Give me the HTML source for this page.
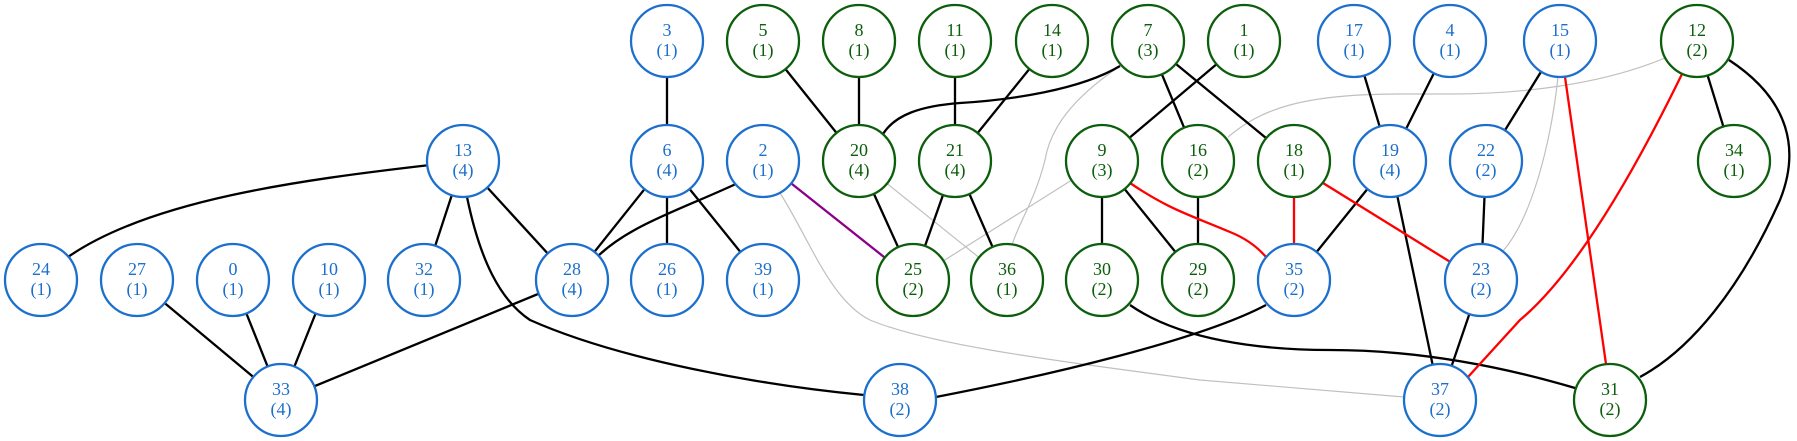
<!DOCTYPE html>
<html><head><meta charset="utf-8"><style>
html,body{margin:0;padding:0;background:#fff;}
svg{display:block;}
text{font-family:"Liberation Serif",serif;font-size:18px;text-anchor:middle;}
.b circle{stroke:#1c6fcd;}
.b text{fill:#1c6fcd;}
.g circle{stroke:#0b5e0b;}
.g text{fill:#0b5e0b;}
circle{fill:#fff;stroke-width:2.3;}
.e{fill:none;stroke:#000;stroke-width:2.3;}
.r{fill:none;stroke:#f00;stroke-width:2.3;}
.y{fill:none;stroke:#c0c0c0;stroke-width:1.2;}
.p{fill:none;stroke:#8b008b;stroke-width:2.3;}
</style></head><body>
<svg width="1797" height="441" viewBox="0 0 1797 441" xmlns="http://www.w3.org/2000/svg">
<!-- gray edges -->
<path class="y" d="M1665,58 C1600,85 1520,94 1450,94 L1400,94 C1300,94 1260,110 1228,137"/>
<path class="y" d="M1120,66 C1070,100 1050,130 1045,160 C1035,200 1020,220 1012,245"/>
<path class="y" d="M1558,77 C1550,150 1530,220 1503,251"/>
<path class="y" d="M780,193 C810,240 830,300 870,320 C930,345 1050,360 1200,380 L1404,397"/>
<line class="y" x1="859" y1="161" x2="1007" y2="280"/>
<line class="y" x1="1102" y1="161" x2="913" y2="280"/>
<!-- black edges -->
<line class="e" x1="667" y1="41" x2="667" y2="161"/>
<line class="e" x1="763" y1="41" x2="859" y2="161"/>
<line class="e" x1="859" y1="41" x2="859" y2="161"/>
<line class="e" x1="955" y1="41" x2="955" y2="161"/>
<line class="e" x1="1052" y1="41" x2="955" y2="161"/>
<path class="e" d="M1120,66 C1080,90 1010,100 960,103 C920,106 895,115 883,134"/>
<line class="e" x1="1148" y1="41" x2="1198" y2="161"/>
<line class="e" x1="1148" y1="41" x2="1294" y2="161"/>
<line class="e" x1="1244" y1="41" x2="1102" y2="161"/>
<line class="e" x1="1354" y1="41" x2="1390" y2="161"/>
<line class="e" x1="1450" y1="41" x2="1390" y2="161"/>
<line class="e" x1="1560" y1="41" x2="1486" y2="161"/>
<line class="e" x1="1697" y1="41" x2="1734" y2="161"/>
<path class="e" d="M1729,60 C1790,100 1800,150 1780,200 C1740,290 1690,350 1640,377"/>
<path class="e" d="M430,165 C300,180 150,200 68,257"/>
<line class="e" x1="463" y1="161" x2="424" y2="280"/>
<line class="e" x1="463" y1="161" x2="572" y2="280"/>
<path class="e" d="M467,197 C480,260 500,300 530,320 C620,360 760,385 864,395"/>
<line class="e" x1="667" y1="161" x2="572" y2="280"/>
<line class="e" x1="667" y1="161" x2="667" y2="280"/>
<line class="e" x1="667" y1="161" x2="763" y2="280"/>
<path class="e" d="M738,183 C680,210 630,225 597,257"/>
<line class="e" x1="859" y1="161" x2="913" y2="280"/>
<line class="e" x1="955" y1="161" x2="913" y2="280"/>
<line class="e" x1="955" y1="161" x2="1007" y2="280"/>
<line class="e" x1="1102" y1="161" x2="1102" y2="280"/>
<line class="e" x1="1102" y1="161" x2="1198" y2="280"/>
<line class="e" x1="1198" y1="161" x2="1198" y2="280"/>
<line class="e" x1="1390" y1="161" x2="1294" y2="280"/>
<line class="e" x1="1390" y1="161" x2="1440" y2="400"/>
<line class="e" x1="1486" y1="161" x2="1481" y2="280"/>
<line class="e" x1="1481" y1="280" x2="1440" y2="400"/>
<line class="e" x1="137" y1="280" x2="281" y2="400"/>
<line class="e" x1="233" y1="280" x2="281" y2="400"/>
<line class="e" x1="329" y1="280" x2="281" y2="400"/>
<line class="e" x1="572" y1="280" x2="281" y2="400"/>
<path class="e" d="M1266,305 C1200,340 1050,375 936,397"/>
<path class="e" d="M1130,305 C1180,340 1260,350 1330,350 C1400,350 1480,360 1575,388"/>
<!-- colored -->
<line class="p" x1="763" y1="161" x2="913" y2="280"/>
<line class="r" x1="1565" y1="77" x2="1606" y2="364"/>
<path class="r" d="M1682,74 C1640,160 1580,270 1520,320 L1468,377"/>
<path class="r" d="M1130,183 C1170,210 1190,215 1230,232 C1250,240 1260,250 1266,257"/>
<line class="r" x1="1294" y1="197" x2="1294" y2="245"/>
<line class="r" x1="1323" y1="183" x2="1460" y2="268"/>
<!-- nodes -->
<g class="b">
<circle cx="667" cy="41" r="36"/><text x="667" y="36">3</text><text x="667" y="56">(1)</text>
<circle cx="1354" cy="41" r="36"/><text x="1354" y="36">17</text><text x="1354" y="56">(1)</text>
<circle cx="1450" cy="41" r="36"/><text x="1450" y="36">4</text><text x="1450" y="56">(1)</text>
<circle cx="1560" cy="41" r="36"/><text x="1560" y="36">15</text><text x="1560" y="56">(1)</text>
<circle cx="463" cy="161" r="36"/><text x="463" y="156">13</text><text x="463" y="176">(4)</text>
<circle cx="667" cy="161" r="36"/><text x="667" y="156">6</text><text x="667" y="176">(4)</text>
<circle cx="763" cy="161" r="36"/><text x="763" y="156">2</text><text x="763" y="176">(1)</text>
<circle cx="1390" cy="161" r="36"/><text x="1390" y="156">19</text><text x="1390" y="176">(4)</text>
<circle cx="1486" cy="161" r="36"/><text x="1486" y="156">22</text><text x="1486" y="176">(2)</text>
<circle cx="41" cy="280" r="36"/><text x="41" y="275">24</text><text x="41" y="295">(1)</text>
<circle cx="137" cy="280" r="36"/><text x="137" y="275">27</text><text x="137" y="295">(1)</text>
<circle cx="233" cy="280" r="36"/><text x="233" y="275">0</text><text x="233" y="295">(1)</text>
<circle cx="329" cy="280" r="36"/><text x="329" y="275">10</text><text x="329" y="295">(1)</text>
<circle cx="424" cy="280" r="36"/><text x="424" y="275">32</text><text x="424" y="295">(1)</text>
<circle cx="572" cy="280" r="36"/><text x="572" y="275">28</text><text x="572" y="295">(4)</text>
<circle cx="667" cy="280" r="36"/><text x="667" y="275">26</text><text x="667" y="295">(1)</text>
<circle cx="763" cy="280" r="36"/><text x="763" y="275">39</text><text x="763" y="295">(1)</text>
<circle cx="1294" cy="280" r="36"/><text x="1294" y="275">35</text><text x="1294" y="295">(2)</text>
<circle cx="1481" cy="280" r="36"/><text x="1481" y="275">23</text><text x="1481" y="295">(2)</text>
<circle cx="281" cy="400" r="36"/><text x="281" y="395">33</text><text x="281" y="415">(4)</text>
<circle cx="900" cy="400" r="36"/><text x="900" y="395">38</text><text x="900" y="415">(2)</text>
<circle cx="1440" cy="400" r="36"/><text x="1440" y="395">37</text><text x="1440" y="415">(2)</text>
</g>
<g class="g">
<circle cx="763" cy="41" r="36"/><text x="763" y="36">5</text><text x="763" y="56">(1)</text>
<circle cx="859" cy="41" r="36"/><text x="859" y="36">8</text><text x="859" y="56">(1)</text>
<circle cx="955" cy="41" r="36"/><text x="955" y="36">11</text><text x="955" y="56">(1)</text>
<circle cx="1052" cy="41" r="36"/><text x="1052" y="36">14</text><text x="1052" y="56">(1)</text>
<circle cx="1148" cy="41" r="36"/><text x="1148" y="36">7</text><text x="1148" y="56">(3)</text>
<circle cx="1244" cy="41" r="36"/><text x="1244" y="36">1</text><text x="1244" y="56">(1)</text>
<circle cx="1697" cy="41" r="36"/><text x="1697" y="36">12</text><text x="1697" y="56">(2)</text>
<circle cx="859" cy="161" r="36"/><text x="859" y="156">20</text><text x="859" y="176">(4)</text>
<circle cx="955" cy="161" r="36"/><text x="955" y="156">21</text><text x="955" y="176">(4)</text>
<circle cx="1102" cy="161" r="36"/><text x="1102" y="156">9</text><text x="1102" y="176">(3)</text>
<circle cx="1198" cy="161" r="36"/><text x="1198" y="156">16</text><text x="1198" y="176">(2)</text>
<circle cx="1294" cy="161" r="36"/><text x="1294" y="156">18</text><text x="1294" y="176">(1)</text>
<circle cx="1734" cy="161" r="36"/><text x="1734" y="156">34</text><text x="1734" y="176">(1)</text>
<circle cx="913" cy="280" r="36"/><text x="913" y="275">25</text><text x="913" y="295">(2)</text>
<circle cx="1007" cy="280" r="36"/><text x="1007" y="275">36</text><text x="1007" y="295">(1)</text>
<circle cx="1102" cy="280" r="36"/><text x="1102" y="275">30</text><text x="1102" y="295">(2)</text>
<circle cx="1198" cy="280" r="36"/><text x="1198" y="275">29</text><text x="1198" y="295">(2)</text>
<circle cx="1610" cy="400" r="36"/><text x="1610" y="395">31</text><text x="1610" y="415">(2)</text>
</g>
</svg>
</body></html>
